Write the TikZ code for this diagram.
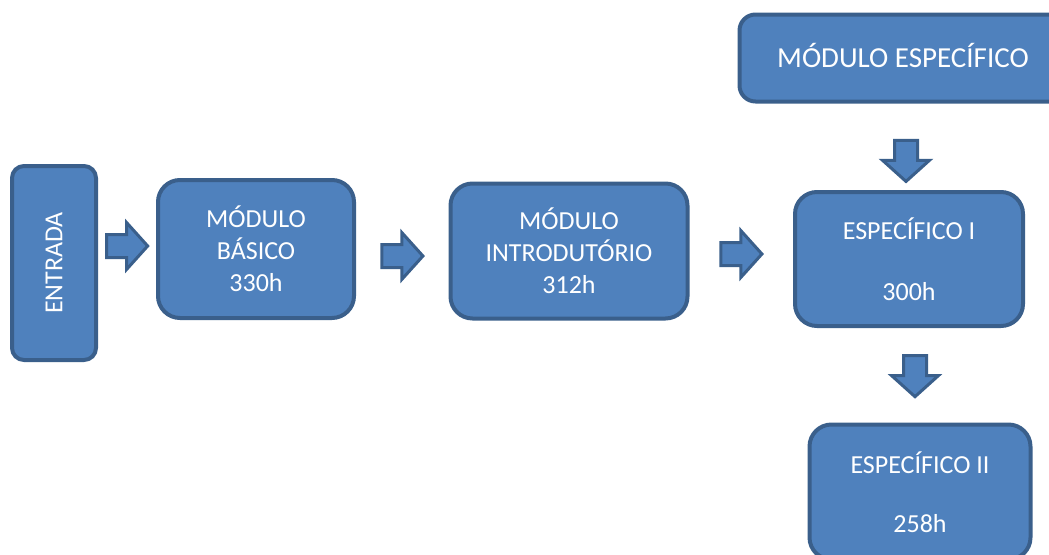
\documentclass[tikz,border=0pt]{standalone}
\usepackage{fontspec}
\setmainfont{Carlito}
\usetikzlibrary{shapes.arrows,calc}
\definecolor{boxfill}{HTML}{4F81BD}
\definecolor{boxline}{HTML}{3A5F8B}

\begin{document}
\begin{tikzpicture}[x=1pt,y=-1pt,
  modbox/.style={draw=boxline,fill=boxfill,line width=4pt,rounded corners=22pt,
    text=white,align=center,inner sep=0pt,font=\fontsize{26}{32}\selectfont},
  blkarrow/.style={single arrow,draw=boxline,fill=boxfill,line width=3pt,
    inner xsep=0pt,inner ysep=10pt,minimum height=41pt,
    single arrow head extend=12pt,single arrow tip angle=96}]
 \useasboundingbox (0,0) rectangle (1049,554);
 % caixas
 \node[modbox,rounded corners=12pt,minimum width=84pt,minimum height=194pt]
   (entrada) at (54,263) {\rotatebox{90}{ENTRADA}};
 \node[modbox,minimum width=196pt,minimum height=138pt]
   (basico) at (256,249) {MÓDULO\\BÁSICO\\330h};
 \node[modbox,minimum width=237pt,minimum height=135pt]
   (intro) at (569,251) {MÓDULO\\INTRODUTÓRIO\\312h};
 \node[modbox,minimum width=228pt,minimum height=134pt]
   (espI) at (909,259) {ESPECÍFICO I\\[29pt]300h};
 \node[modbox,rounded corners=16pt,minimum width=327pt,minimum height=87pt,
   font=\fontsize{29}{35}\selectfont]
   (modesp) at (903,58) {\raisebox{6pt}{MÓDULO ESPECÍFICO}};
 \node[modbox,minimum width=221pt,minimum height=135pt]
   (espII) at (920,492) {ESPECÍFICO II\\[27pt]258h};
 % setas
 \node[blkarrow] (s1) at ($(entrada.east)!.5!(basico.west)+(-5,-10)$) {};
 \node[blkarrow] (s2) at ($(basico.east)!.5!(intro.west)+(-5,6)$) {};
 \node[blkarrow] (s3) at ($(intro.east)!.5!(espI.west)+(-5,-1)$) {};
 \node[blkarrow,rotate=-90] (s4) at ($(modesp.south)!.5!(espI.north)+(0,9)$) {};
 \node[blkarrow,rotate=-90] (s5) at ($(espI.south |- 0,0)+(6,371)$) {};
\end{tikzpicture}
\end{document}
